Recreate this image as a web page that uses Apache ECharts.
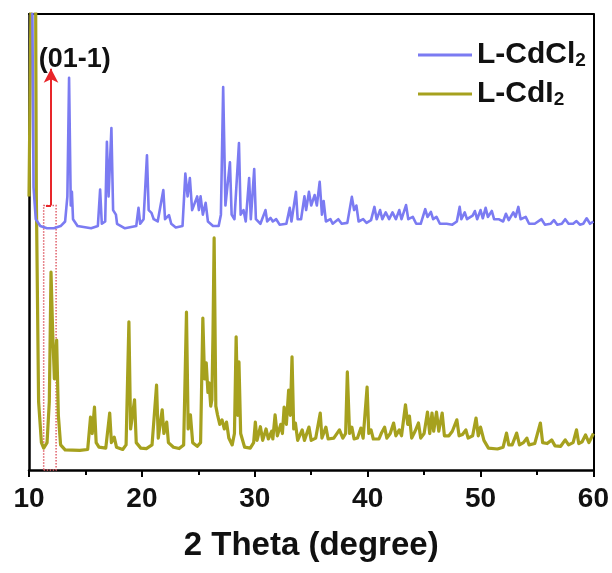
<!DOCTYPE html>
<html>
<head>
<meta charset="utf-8">
<script src="https://cdn.jsdelivr.net/npm/echarts@6/dist/echarts.min.js"></script>
<style>
html,body{margin:0;padding:0;background:#fff;}
#chart{width:612px;height:573px;}
</style>
</head>
<body>
<div id="chart"></div>
<script>
// ---- data ----
const seriesNames = ['L-CdCl2', 'L-CdI2'];
const xTicks = [10, 20, 30, 40, 50, 60];
const xTitle = '2 Theta (degree)';
const peakLabel = '(01-1)';

// L-CdCl2 trace: [2theta, intensity (a.u., offset)]
const cdcl2 = [
 [10.0,130],[10.15,160],[10.4,62],[10.6,55],[11.0,53.5],[11.6,53],[12.2,53],[12.8,53.5],[13.2,54.5],[13.4,60],[13.55,86],[13.7,58],[13.8,61],[13.9,55],[14.3,53.5],[15.5,53],[16.1,53.5],[16.3,61.5],[16.45,54],[16.75,54.5],[16.9,72],[17.05,60],[17.3,75],[17.45,57],[17.7,56],[17.8,54],[18.5,53],[19.5,53.5],[19.7,57.5],[19.85,54],[20.15,55],[20.45,69],[20.6,57],[20.85,56.4],[21.05,55],[21.4,54.5],[21.9,61.4],[22.05,55],[22.4,55.9],[22.6,54],[23.0,53.2],[23.6,53.5],[23.85,65],[24.05,60],[24.25,64],[24.45,57],[24.9,60],[25.05,57],[25.2,60],[25.4,56],[25.65,58.6],[25.85,54.5],[26.3,53.5],[26.8,53.5],[27.0,56],[27.2,84],[27.4,58],[27.8,67.5],[27.95,56],[28.2,55],[28.6,71.7],[28.75,56],[29.0,57],[29.2,54.5],[29.5,64],[29.65,55],[29.95,66],[30.1,55],[30.5,54],[30.95,57],[31.1,54.5],[31.4,55.3],[31.6,54.5],[31.9,55],[32.2,53.8],[32.8,54],[33.1,57.5],[33.25,54.5],[33.65,61],[33.8,55],[34.1,55],[34.4,60],[34.55,57],[34.8,61],[35.0,58],[35.3,60.3],[35.5,58],[35.75,63.2],[35.95,56],[36.1,59],[36.3,54.5],[36.7,55],[36.9,54],[37.4,55],[37.7,54],[38.2,54.2],[38.6,59.9],[38.8,57],[39.0,58],[39.2,54.5],[39.6,55],[39.9,54.2],[40.3,54.8],[40.6,57.7],[40.8,55],[41.1,57],[41.3,55],[41.6,56.5],[41.9,55],[42.2,56.5],[42.5,55],[42.8,57],[43.0,55],[43.4,58.1],[43.6,55],[44.0,55.5],[44.3,54],[44.7,54],[45.1,57.2],[45.3,55.5],[45.6,56.6],[45.8,55],[46.1,55.5],[46.4,54],[47.0,54],[47.5,53.8],[47.9,54.5],[48.15,57.7],[48.3,55],[48.6,56.5],[48.8,55],[49.3,55.8],[49.5,56.8],[49.7,55],[50.0,57],[50.2,55.2],[50.45,57.5],[50.65,55.5],[51.0,56.8],[51.2,55],[51.6,55],[52.0,54.5],[52.25,56.2],[52.5,54.8],[52.9,56.5],[53.1,55.5],[53.35,57.7],[53.55,55],[54.0,55.5],[54.3,54],[54.8,54],[55.4,55],[55.7,53.8],[56.2,54],[56.5,54.8],[56.8,53.8],[57.2,54],[57.5,55],[57.8,54],[58.2,54],[58.5,54.6],[58.8,53.8],[59.1,54],[59.4,55.2],[59.7,54],[60.0,54.5]
];

// L-CdI2 trace: [2theta, intensity (a.u.)]
const cdi2 = [
 [10.0,60],[10.25,120],[10.45,200],[10.65,60],[10.85,15],[11.1,6],[11.3,4.8],[11.6,6],[11.8,15],[11.95,43.4],[12.1,30],[12.25,20],[12.45,28.5],[12.6,12],[12.8,5.5],[13.2,4.4],[14.5,4.3],[15.2,4.5],[15.45,11.6],[15.6,8],[15.8,13.8],[15.95,6],[16.2,5],[16.8,4.8],[17.15,12.5],[17.3,6],[17.55,7.2],[17.75,5],[18.3,4.5],[18.6,5.5],[18.85,32.5],[19.0,9],[19.35,15.4],[19.5,6],[19.9,4.8],[20.4,4.7],[20.9,5.5],[21.3,18.6],[21.45,7],[21.8,13.2],[21.95,8],[22.2,10.5],[22.35,6],[22.8,5],[23.3,4.7],[23.7,5.5],[23.95,34.6],[24.1,9],[24.3,12.1],[24.5,6],[24.9,5.2],[25.2,6],[25.4,33.3],[25.55,20],[25.7,23.5],[25.85,17],[25.95,19.1],[26.1,14],[26.2,15.4],[26.3,30],[26.4,50.9],[26.55,14],[26.7,12.1],[26.9,10],[27.1,11],[27.3,9],[27.5,10.5],[27.7,7],[28.0,5.5],[28.2,8],[28.35,29.2],[28.5,12],[28.6,23.7],[28.75,8],[29.1,5],[29.6,4.8],[29.9,6],[30.05,10.5],[30.2,6.5],[30.5,9.5],[30.7,6.5],[31.0,9],[31.2,6.8],[31.5,8.5],[31.6,6.8],[31.8,12.1],[32.0,7.5],[32.3,10],[32.45,8],[32.6,13.8],[32.8,10],[33.0,17.5],[33.15,12],[33.3,24.8],[33.45,9],[33.6,10.3],[33.8,6.5],[34.2,8.8],[34.4,6.5],[34.8,9.4],[35.0,6.5],[35.4,7],[35.8,12.5],[35.95,7],[36.3,9.4],[36.5,6.8],[37.0,7],[37.5,8.8],[37.8,7],[38.05,8],[38.2,21.5],[38.4,8],[38.6,9.4],[38.8,6.8],[39.1,7],[39.4,9.2],[39.6,7],[39.95,18.2],[40.1,8],[40.3,8.8],[40.5,6.8],[41.0,6.8],[41.2,8],[41.5,9.4],[41.7,7],[42.0,8],[42.3,10.3],[42.5,7.5],[42.8,8.8],[43.0,7.5],[43.35,14.3],[43.55,10],[43.7,11.8],[43.9,7],[44.2,8.5],[44.5,10.3],[44.7,7],[45.0,8],[45.3,12.7],[45.5,8],[45.7,12.5],[45.85,8.5],[46.1,12.7],[46.3,8.5],[46.6,12.5],[46.8,7.5],[47.2,7.5],[47.5,8.5],[47.9,11],[48.1,7.5],[48.4,7.8],[48.7,8.8],[48.9,7],[49.3,7.5],[49.6,11.4],[49.8,7.5],[50.0,9.4],[50.3,6.5],[50.7,4.8],[51.5,4.6],[52.0,5],[52.3,8.1],[52.5,5.5],[52.8,5.5],[53.2,8.1],[53.45,5.5],[53.8,6],[54.1,7],[54.3,5.5],[54.8,5.8],[55.3,10.3],[55.5,6],[55.9,5.8],[56.3,6.6],[56.6,5.3],[57.1,5.2],[57.5,6.6],[57.8,5.5],[58.2,6],[58.5,8.8],[58.7,5.8],[59.0,6.2],[59.3,7.7],[59.6,6],[60.0,8]
];

// annotation (data coordinates)
const arrowX = 11.95, arrowFrom = 58, arrowTo = 88;
const boxX = [11.3, 12.4], boxY = [0, 58];
const labelPos = [14.06, 90.0];

// ---- chart ----
const FONT = '"Liberation Sans", Arial, Helvetica, sans-serif';
const colors = ['#7b7bf2', '#a6a11e'];
const chart = echarts.init(document.getElementById('chart'), null, {renderer: 'canvas'});

function legendFmt(name) {
  return '{n|' + name.slice(0, -1) + '}{s|' + name.slice(-1) + '}';
}
const legendText = {
  color: '#111',
  rich: {
    n: {fontSize: 30, fontWeight: 'bold', fontFamily: FONT, color: '#111'},
    s: {fontSize: 19, fontWeight: 'bold', fontFamily: FONT, color: '#111', verticalAlign: 'bottom', padding: [9, 0, 0, 0]}
  }
};

chart.setOption({
  animation: false,
  backgroundColor: '#fff',
  color: colors,
  grid: {left: 29, right: 17, top: 14, bottom: 103, containLabel: false},
  legend: [
    {data: [{name: seriesNames[0], icon: 'rect'}], left: 418, top: 40, padding: 0, itemWidth: 54, itemHeight: 3, itemGap: 6, formatter: legendFmt, textStyle: legendText, selectedMode: false},
    {data: [{name: seriesNames[1], icon: 'rect'}], left: 418, top: 79, padding: 0, itemWidth: 54, itemHeight: 3, itemGap: 6, formatter: legendFmt, textStyle: legendText, selectedMode: false}
  ],
  xAxis: [{
    type: 'value', min: 10, max: 60, interval: 10,
    name: xTitle, nameLocation: 'middle', nameGap: 59,
    nameTextStyle: {fontSize: 33, fontWeight: 'bold', fontFamily: FONT, color: '#111'},
    axisLine: {show: true, onZero: false, lineStyle: {color: '#000', width: 2.5}},
    axisTick: {show: true, inside: false, length: 7, lineStyle: {color: '#000', width: 2}},
    minorTick: {show: true, splitNumber: 2, length: 5, lineStyle: {color: '#000', width: 2}},
    axisLabel: {fontSize: 28, fontWeight: 'bold', fontFamily: FONT, color: '#111', margin: 15,
      formatter: v => xTicks.includes(v) ? String(v) : ''},
    splitLine: {show: false}
  }, {
    type: 'value', min: 10, max: 60, position: 'top',
    axisLine: {show: true, onZero: false, lineStyle: {color: '#000', width: 2}},
    axisTick: {show: false}, axisLabel: {show: false}, splitLine: {show: false}
  }],
  yAxis: [{
    type: 'value', min: 0, max: 100,
    axisLine: {show: true, onZero: false, lineStyle: {color: '#000', width: 2.5}},
    axisTick: {show: false}, axisLabel: {show: false}, splitLine: {show: false}
  }, {
    type: 'value', min: 0, max: 100, position: 'right',
    axisLine: {show: true, onZero: false, lineStyle: {color: '#000', width: 2}},
    axisTick: {show: false}, axisLabel: {show: false}, splitLine: {show: false}
  }],
  series: [{
    name: seriesNames[0], type: 'line', data: cdcl2, showSymbol: false, symbol: 'none',
    clip: true, lineStyle: {width: 2.6, color: colors[0], join: 'round'}, z: 3
  }, {
    name: seriesNames[1], type: 'line', data: cdi2, showSymbol: false, symbol: 'none',
    clip: true, lineStyle: {width: 3.2, color: colors[1], join: 'round'}, z: 2,
    markArea: {
      silent: true,
      itemStyle: {color: 'rgba(0,0,0,0)', borderColor: '#e0606a', borderWidth: 1.5, borderType: 'dotted'},
      data: [[{coord: [boxX[0], boxY[0]]}, {coord: [boxX[1], boxY[1]]}]]
    },
    markLine: {
      silent: true, animation: false,
      lineStyle: {color: '#e8262a', width: 2, type: 'solid'},
      label: {show: false},
      symbolSize: [11, 14],
      data: [
        [{coord: [arrowX, arrowFrom], symbol: 'none'}, {coord: [arrowX, arrowTo], symbol: 'arrow'}],
        [{coord: [11.5, arrowFrom], symbol: 'none'}, {coord: [arrowX, arrowFrom], symbol: 'none'}]
      ]
    },
    markPoint: {
      silent: true, symbol: 'circle', symbolSize: 0,
      label: {show: true, position: 'inside', formatter: peakLabel, fontSize: 27, fontWeight: 'bold', fontFamily: FONT, color: '#111'},
      data: [{coord: labelPos}]
    }
  }]
});
</script>
</body>
</html>
